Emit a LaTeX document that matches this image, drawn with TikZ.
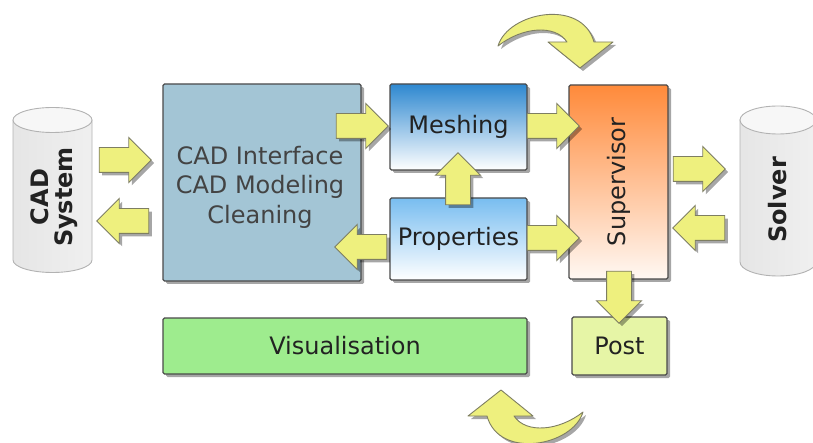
\documentclass[tikz,border=0pt]{standalone}
\usepackage{fontspec}
\setmainfont{DejaVu Sans}
\usetikzlibrary{shapes.arrows,shadows}

\definecolor{arrowfill}{HTML}{EEF07E}
\definecolor{arrowline}{HTML}{7E7E62}
\definecolor{boxline}{HTML}{4A4A4A}
\definecolor{cadfill}{HTML}{A3C5D5}
\definecolor{meshtop}{HTML}{2E88D0}
\definecolor{proptop}{HTML}{78BDF0}
\definecolor{suptop}{HTML}{FF8A3A}
\definecolor{supbot}{HTML}{FFF8F3}
\definecolor{visfill}{HTML}{9EEC8E}
\definecolor{postfill}{HTML}{E6F5A6}
\definecolor{txt}{HTML}{222222}

\tikzset{
  softshadow/.style={drop shadow={shadow xshift=3pt, shadow yshift=-3pt, opacity=0.35, fill=black}},
  box/.style={draw=boxline, line width=1.1pt, rounded corners=1.5pt, inner sep=0pt,
              softshadow, font=\fontsize{24}{29.5}\selectfont, text=txt},
  blockarrow/.style={single arrow, draw=arrowline, fill=arrowfill, line width=0.9pt,
              minimum height=52pt, minimum width=44pt, single arrow head extend=10pt,
              inner sep=12pt, softshadow},
  curvedarrow/.style={draw=arrowline, fill=arrowfill, line width=0.9pt, line join=round, softshadow},
  cylbody/.style={draw=gray!60, line width=0.9pt, left color=gray!20, middle color=white, right color=gray!12},
  cyltop/.style={draw=gray!60, line width=0.9pt, fill=gray!6},
  cyltext/.style={rotate=90, font=\bfseries\fontsize{24}{28}\selectfont, text=txt, align=center}
}

\begin{document}
\begin{tikzpicture}[x=1pt, y=-1pt]
\useasboundingbox (0,0) rectangle (813,443);

% CAD system cylinder
\path[cylbody] (13,120) -- (13,260)
   arc[start angle=180, end angle=360, x radius=39.5pt, y radius=12.5pt] -- (92,120) -- cycle;
\path[cyltop] (52.5,120) ellipse[x radius=39.5pt, y radius=12.5pt];
\node[cyltext] (cadsys) at (54,197) {CAD\\[-4pt]System};

% Solver cylinder
\path[cylbody] (740,120) -- (740,262)
   arc[start angle=180, end angle=360, x radius=38pt, y radius=14pt] -- (816,120) -- cycle;
\path[cyltop] (778,120) ellipse[x radius=38pt, y radius=14pt];
\node[cyltext] (solver) at (778,200) {Solver};

% Blocks
\node[box, fill=cadfill, minimum width=198pt, minimum height=197pt] (cad) at (262,182.5) {};
\node[font=\fontsize{24}{29.5}\selectfont, text=txt!85!white, align=center]
  (cadtext) at (260,187) {CAD Interface\\CAD Modeling\\Cleaning};

\node[box, top color=meshtop, bottom color=white, minimum width=137pt, minimum height=86pt] (mesh) at (458.5,127) {Meshing};
\node[box, top color=proptop, bottom color=white, minimum width=137pt, minimum height=82pt] (props) at (458.5,239) {Properties};
\node[box, top color=suptop, bottom color=supbot, minimum width=99pt, minimum height=194pt] (sup) at (618.5,182) {};
\node[rotate=90, font=\fontsize{24}{29.5}\selectfont, text=txt] (suptext) at (sup.center) {Supervisor};
\node[box, fill=visfill, minimum width=364pt, minimum height=56pt] (vis) at (345,346) {Visualisation};
\node[box, fill=postfill, minimum width=95pt, minimum height=58pt] (post) at (619.5,346) {Post};

% Block arrows between the stages
\node[blockarrow] (cadsysToCad) at (119,160) {};
\node[blockarrow, shape border rotate=180] (cadToCadsys) at (129,221) {};
\node[blockarrow] (cadToMesh) at (356,126) {};
\node[blockarrow, shape border rotate=90] (propsToMesh) at (458,185) {};
\node[blockarrow, shape border rotate=180] (propsToCad) at (367,247) {};
\node[blockarrow] (meshToSup) at (547,126) {};
\node[blockarrow] (propsToSup) at (547,238) {};
\node[blockarrow] (supToSolver) at (693,169) {};
\node[blockarrow, shape border rotate=180] (solverToSup) at (705,228) {};
\node[blockarrow, shape border rotate=270] (supToPost) at (619,291) {};

% Curved loop arrows
\path[curvedarrow] (498,46) .. controls (508,12) and (582,-2) .. (594,42)
   -- (613,42) -- (580,68) -- (548,42) -- (567,42)
   .. controls (555,24) and (522,27) .. cycle;
\path[curvedarrow, rotate around={180:(540.5,229)}] (498,46) .. controls (508,12) and (582,-2) .. (594,42)
   -- (613,42) -- (580,68) -- (548,42) -- (567,42)
   .. controls (555,24) and (522,27) .. cycle;
\end{tikzpicture}
\end{document}
